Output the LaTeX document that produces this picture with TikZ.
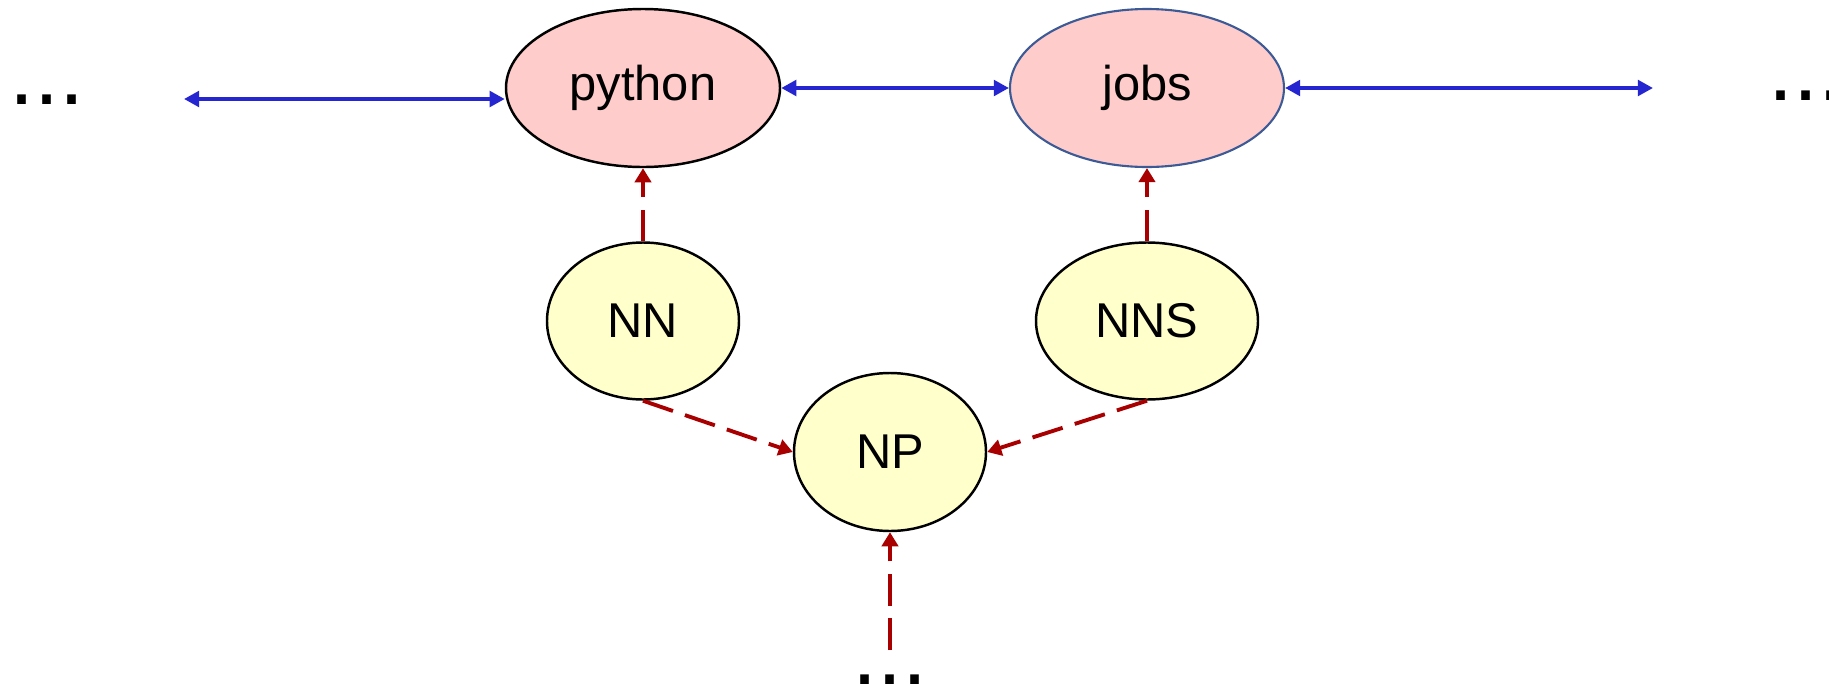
\documentclass[tikz,border=0pt]{standalone}
\usepackage{fontspec}
\setmainfont{Liberation Sans}
\usepackage{xcolor}
\usepackage{tikz}
\usetikzlibrary{arrows.meta, shapes.geometric}

\definecolor{wordfill}{RGB}{255,204,204}
\definecolor{tagfill}{RGB}{255,255,204}
\definecolor{linkblue}{RGB}{38,38,208}
\definecolor{depred}{RGB}{168,0,0}
\definecolor{jobsedge}{RGB}{60,90,150}

\begin{document}
\begin{tikzpicture}[
    font=\fontsize{13.9}{16}\selectfont,
    word/.style={ellipse, draw=black, line width=0.7pt, fill=wordfill,
      minimum width=2.74cm, minimum height=1.58cm, inner sep=0pt},
    tag/.style={ellipse, draw=black, line width=0.7pt, fill=tagfill,
      minimum height=1.57cm, inner sep=0pt},
    dots/.style={font=\fontsize{25.6}{28}\selectfont, inner sep=0pt},
    seq/.style={linkblue, line width=1.1pt,
      {Triangle[length=4.3pt,width=4.4pt]}-{Triangle[length=4.3pt,width=4.4pt]}},
    dep/.style={depred, line width=1.1pt, dash pattern=on 9pt off 3.6pt,
      -{Triangle[length=4pt,width=4.6pt]}}
  ]
  \useasboundingbox (0,0) rectangle (18.29,6.86);

  % words
  \node[word] (python) at (6.43,5.98) {python};
  \node[word, draw=jobsedge, line width=0.6pt] (jobs) at (11.47,5.98) {jobs};

  % tags
  \node[tag, minimum width=1.92cm] (nn) at (6.43,3.65) {NN};
  \node[tag, minimum width=2.22cm] (nns) at (11.47,3.65) {NNS};
  \node[tag, minimum width=1.92cm, minimum height=1.58cm] (np) at (8.90,2.34) {NP};

  \node[dots] (ldots) at (0.47,5.86) {...};
  \node[dots] (rdots) at (18.06,5.90) {...};
  \node[dots] (bdots) at (8.90,0.06) {...};

  \coordinate (lfree) at (1.84,5.87);
  \coordinate (rfree) at (16.53,5.98);
  \coordinate (bfree) at (8.90,0.36);

  % sequence links
  \draw[seq] (lfree) -- (lfree -| python.west);
  \draw[seq] (python) -- (jobs);
  \draw[seq] (jobs) -- (rfree);

  % dependencies
  \draw[dep] (nn) -- (python);
  \draw[dep] (nns) -- (jobs);
  \draw[dep] (nn.south) -- (np.west);
  \draw[dep] (nns.south) -- (np.east);
  \draw[dep] (bfree) -- (np);
\end{tikzpicture}
\end{document}
